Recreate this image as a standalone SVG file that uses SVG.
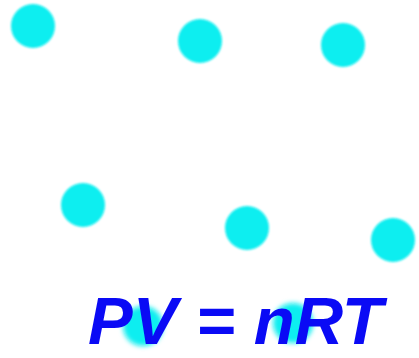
<svg xmlns="http://www.w3.org/2000/svg" width="419" height="358" viewBox="0 0 419 358">
<defs>
<style>
.dot{fill:#0aeef0}
.eq{font-family:"Liberation Sans",Arial,sans-serif;font-weight:bold;font-style:italic;font-size:67px;fill:#0a0af5}
</style>
<filter id="soft" x="-20%" y="-20%" width="140%" height="140%"><feGaussianBlur stdDeviation="0.8"/></filter>
<filter id="soft2" x="-50%" y="-50%" width="200%" height="200%"><feGaussianBlur stdDeviation="2.5"/></filter>
</defs>
<rect width="419" height="358" fill="#fff"/>
<g id="particles" filter="url(#soft)">
<circle class="dot" cx="33" cy="26" r="22"/>
<circle class="dot" cx="200" cy="41" r="22"/>
<circle class="dot" cx="343" cy="45" r="22"/>
<circle class="dot" cx="83" cy="205" r="22"/>
<circle class="dot" cx="247" cy="228" r="22"/>
<circle class="dot" cx="393" cy="240" r="22"/>
</g>
<g id="hidden" filter="url(#soft2)">
<circle class="dot" cx="143" cy="326" r="20"/>
<circle class="dot" cx="293" cy="323" r="20"/>
</g>
<text class="eq" x="88" y="344">PV = nRT</text>
</svg>
